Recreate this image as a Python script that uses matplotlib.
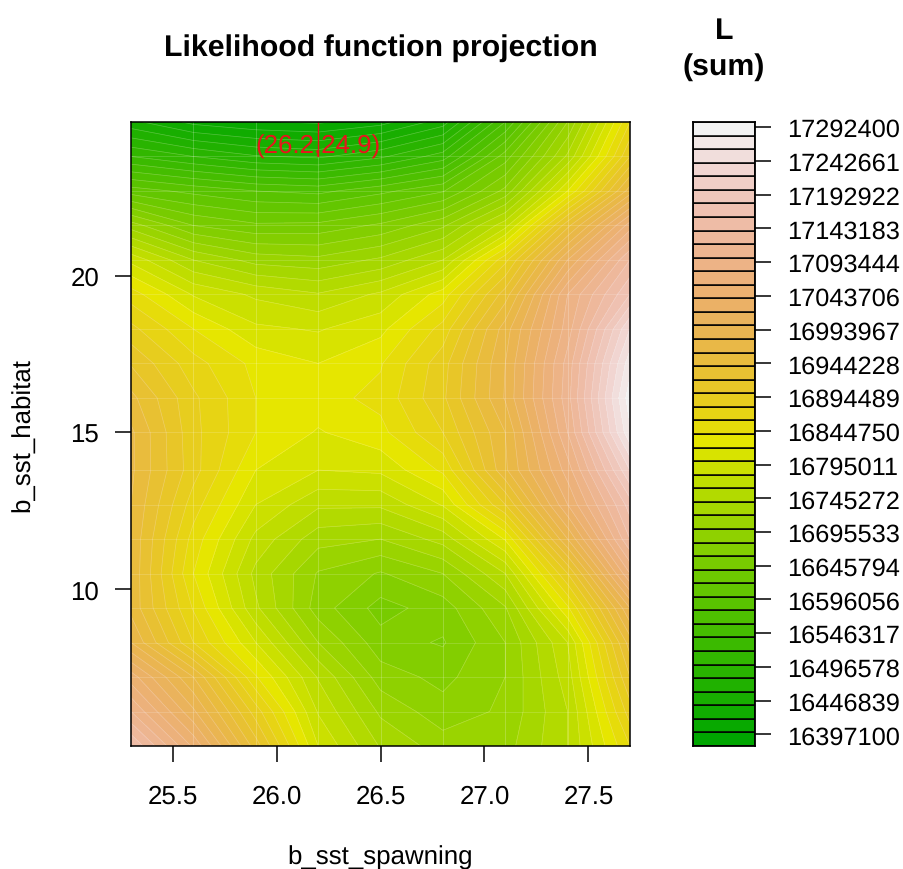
"""Likelihood function projection: filled contour over two parameters."""

import colorsys

import matplotlib

matplotlib.use("Agg")
import matplotlib.pyplot as plt
import numpy as np

plt.rcParams["font.family"] = ["Liberation Sans", "DejaVu Sans"]
plt.rcParams["text.hinting"] = "no_hinting"

B_SST_SPAWNING = [25.3, 25.6, 25.9, 26.2, 26.5, 26.8, 27.1, 27.4, 27.7]
B_SST_HABITAT = [5.0, 6.1, 7.2, 8.3, 9.4, 10.5, 11.6, 12.7, 13.8, 15.0,
                 16.1, 17.2, 18.3, 19.4, 20.5, 21.6, 22.7, 23.8, 24.9]

# L (sum) in thousands, one row per b_sst_habitat value, bottom row first
L_SUM = [
    [17160, 17056, 16930, 16800, 16738, 16710, 16712, 16760, 16860],
    [17100, 17004, 16890, 16778, 16716, 16688, 16704, 16760, 16890],
    [17050, 16960, 16842, 16758, 16690, 16674, 16700, 16770, 16920],
    [16980, 16880, 16800, 16720, 16668, 16658, 16700, 16780, 16950],
    [16954, 16858, 16764, 16690, 16652, 16670, 16718, 16836, 17000],
    [16956, 16840, 16754, 16698, 16678, 16700, 16760, 16900, 17080],
    [16956, 16852, 16774, 16728, 16720, 16748, 16822, 16980, 17140],
    [16960, 16870, 16800, 16764, 16764, 16802, 16900, 17040, 17170],
    [16964, 16888, 16820, 16800, 16804, 16844, 16956, 17070, 17220],
    [16964, 16886, 16840, 16818, 16834, 16880, 16960, 17100, 17276],
    [16946, 16884, 16840, 16832, 16846, 16896, 16982, 17112, 17292],
    [16918, 16868, 16834, 16820, 16838, 16892, 16980, 17108, 17272],
    [16886, 16840, 16804, 16798, 16814, 16868, 16970, 17090, 17240],
    [16850, 16798, 16776, 16762, 16784, 16830, 16930, 17080, 17180],
    [16794, 16740, 16712, 16706, 16724, 16760, 16874, 17020, 17140],
    [16710, 16660, 16644, 16646, 16664, 16696, 16772, 16934, 17070],
    [16610, 16594, 16580, 16574, 16594, 16618, 16686, 16820, 16970],
    [16520, 16500, 16482, 16476, 16496, 16530, 16630, 16744, 16900],
    [16446, 16414, 16402, 16397, 16412, 16450, 16560, 16700, 16860],
]

LEVEL_MIN = 16380
LEVEL_STEP = 20
N_LEVELS = 46

BAR_TICKS = [16397100, 16446839, 16496578, 16546317, 16596056, 16645794,
             16695533, 16745272, 16795011, 16844750, 16894489, 16944228,
             16993967, 17043706, 17093444, 17143183, 17192922, 17242661,
             17292400]

BEST_X = 26.2
BEST_Y = 24.9
BEST_LABEL = "(26.2,24.9)"
FONT = 18.6


def terrain_colors(n):
    # same ramp as R's terrain.colors()
    k = n // 2
    out = []
    for h, s, v in zip(np.linspace(4 / 12, 2 / 12, k), np.ones(k), np.linspace(0.65, 0.9, k)):
        out.append(colorsys.hsv_to_rgb(h, s, v))
    m = n - k + 1
    for h, s, v in zip(np.linspace(2 / 12, 0, m)[1:], np.linspace(1, 0, m)[1:], np.linspace(0.9, 0.95, m)[1:]):
        out.append(colorsys.hsv_to_rgb(h, s, v))
    return out


x = np.array(B_SST_SPAWNING)
y = np.array(B_SST_HABITAT)
z = np.array(L_SUM, dtype=float)
levels = LEVEL_MIN + LEVEL_STEP * np.arange(N_LEVELS + 1)
colors = terrain_colors(N_LEVELS)

W, H = 904, 870
fig = plt.figure(figsize=(W / 100, H / 100), dpi=100)
ax = fig.add_axes([131 / W, (H - 747) / H, (630 - 131) / W, (747 - 123) / H])
cax = fig.add_axes([693 / W, (H - 747) / H, (755 - 693) / W, (747 - 123) / H])

ax.contourf(x, y, z, levels=levels, colors=colors)
ax.contour(x, y, z, levels=levels, colors="white", linewidths=0.5, alpha=0.25)
for value in x[1:-1]:
    ax.axvline(value, color="white", linewidth=0.7, alpha=0.22)
for value in y[1:-1]:
    ax.axhline(value, color="white", linewidth=0.7, alpha=0.16)

ax.plot([BEST_X, BEST_X], [y[-2], y[-1]], color="#e8141c", linewidth=1.0)
ax.text(BEST_X, y[-1] - 0.75, BEST_LABEL, color="#e8141c", fontsize=FONT,
        ha="center", va="center")

ax.set_xlim(x[0], x[-1])
ax.set_ylim(y[0], y[-1])
ax.set_xticks([25.5, 26.0, 26.5, 27.0, 27.5])
ax.set_yticks([10, 15, 20])
ax.tick_params(axis="x", labelsize=FONT, length=11.5, width=1.1, pad=15.5)
ax.tick_params(axis="y", labelsize=FONT, length=11.5, width=1.1, pad=11.5)
for label in ax.get_yticklabels():
    label.set_va("center_baseline")
for spine in ax.spines.values():
    spine.set_linewidth(1.1)

fig.text(381 / W, 1 - 48.5 / H, "Likelihood function projection", fontsize=21.8,
         fontweight="bold", ha="center", va="center")
fig.text(380.5 / W, 1 - 857.5 / H, "b_sst_spawning", fontsize=FONT, ha="center", va="center")
fig.text(23.5 / W, 1 - 435.5 / H, "b_sst_habitat", fontsize=FONT, rotation=90, ha="center", va="center")
fig.text(724 / W, 1 - 31 / H, "L", fontsize=21.8, fontweight="bold", ha="center", va="center")
fig.text(724 / W, 1 - 67.5 / H, "(sum)", fontsize=21.8, fontweight="bold", ha="center", va="center")

cax.barh(levels[:-1], np.ones(N_LEVELS), height=LEVEL_STEP, align="edge", color=colors,
         edgecolor="black", linewidth=1.1)
cax.set_xlim(0, 1)
cax.set_ylim(levels[0], levels[-1])
cax.set_xticks([])
cax.yaxis.tick_right()
cax.set_yticks(np.array(BAR_TICKS) / 1000, [str(t) for t in BAR_TICKS])
cax.tick_params(axis="y", labelsize=18.3, length=11.5, width=1.1, pad=11.5)
for spine in cax.spines.values():
    spine.set_linewidth(1.3)

fig.savefig("out.png", dpi=100)
plt.close(fig)
